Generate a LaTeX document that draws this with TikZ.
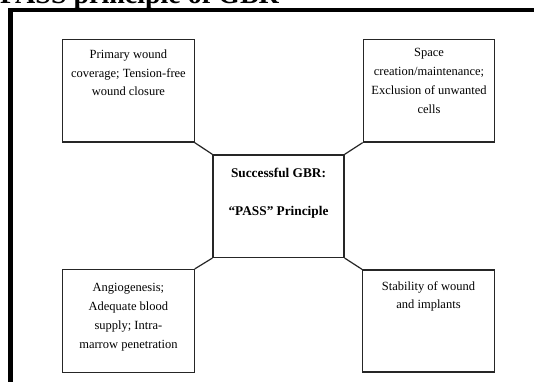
\documentclass[tikz,border=0pt]{standalone}
\usepackage{fontspec}
\setmainfont{Liberation Serif}
\tikzset{
  box/.style={draw=black!85, line width=1.2pt, rectangle, inner sep=0pt},
  link/.style={draw=black!85, line width=1.2pt},
  txt/.style={inner sep=0pt, align=center, anchor=north, font=\fontsize{12.5}{18.8}\selectfont},
  ctxt/.style={inner sep=0pt, anchor=base, font=\fontsize{13.3}{16}\selectfont\bfseries},
  frame/.style={draw=black, line width=4.6pt}
}
\begin{document}
\begin{tikzpicture}[x=1pt,y=-1pt]
\useasboundingbox (0,0) rectangle (534,381);
\clip (0,0) rectangle (534,381);
\fill[white] (0,0) rectangle (534,381);
% cropped title
\node[inner sep=0pt, anchor=base west, font=\fontsize{28}{30}\selectfont\bfseries] (title) at (0,3.5) {PASS principle of GBR};
% frame
\coordinate (fa) at (10.6,400);
\coordinate (fb) at (10.6,9.8);
\coordinate (fc) at (560,9.8);
\draw[frame] (fa) -- (fb) -- (fc);
% boxes
\node[box, minimum width=131.5pt, minimum height=102.5pt] (tl) at (128.4,90.8) {};
\node[box, minimum width=131.5pt, minimum height=102.5pt] (tr) at (429,90.8) {};
\node[box, minimum width=131.5pt, minimum height=103pt] (bl) at (128.4,321) {};
\node[box, minimum width=131.5pt, minimum height=102pt] (br) at (428.5,321) {};
\node[box, minimum width=131pt, minimum height=102.5pt] (c) at (278.5,206.2) {};
% connectors
\draw[link] (tl.south east) -- (c.north west);
\draw[link] (tr.south west) -- (c.north east);
\draw[link] (bl.north east) -- (c.south west);
\draw[link] (br.north west) -- (c.south east);
% texts
\node[txt] (tlt) at (128.4,49.5) {Primary wound\\coverage; Tension-free\\wound closure};
\node[txt] (trt) at (429,48.5) {Space\\creation/maintenance;\\Exclusion of unwanted\\cells};
\node[txt] (blt) at (128.4,283.5) {Angiogenesis;\\Adequate blood\\supply; Intra-\\marrow penetration};
\node[txt] (brt) at (428.5,281) {Stability of wound\\and implants};
\node[ctxt] (c1) at (278.5,177) {Successful GBR:};
\node[ctxt] (c2) at (278.5,215) {``PASS'' Principle};
\end{tikzpicture}
\end{document}
